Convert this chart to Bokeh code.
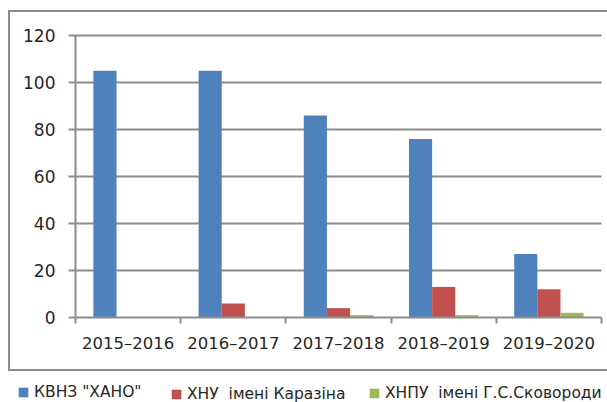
from bokeh.plotting import figure
from bokeh.models import (ColumnDataSource, FixedTicker, Legend, LegendItem, Range1d)
from bokeh.embed import file_html
from bokeh.resources import INLINE

# ---- data ----
years = ["2015–2016", "2016–2017", "2017–2018", "2018–2019", "2019–2020"]
series_names = ["КВНЗ \"ХАНО\"", "ХНУ\u00a0 імені Каразіна", "ХНПУ\u00a0 імені Г.С.Сковороди"]
khano = [105, 105, 86, 76, 27]
karazin = [0, 6, 4, 13, 12]
skovoroda = [0, 0, 1, 1, 2]
y_ticks = [0, 20, 40, 60, 80, 100, 120]

colors = ["#4F81BD", "#C0504D", "#9BBB59"]
offsets = [0.28, 0.50, 0.72]
bar_w = 0.22
FONT = "DejaVu Sans"
TXT = "#262626"
GRAY = "#8c8c8c"

# ---- layout (pixels) ----
W, H = 607, 402
PL, PR, PT, PB = 75, 601, 35, 317          # plot area inside the canvas
n = len(years)
ymax = y_ticks[-1]
kx = (PR - PL) / n
ky = (PB - PT) / ymax
x_range = Range1d(-PL / kx, n + (W - PR) / kx)
y_range = Range1d(-(H - PB) / ky, ymax + PT / ky)

grad = "linear-gradient(%s,%s)" % (GRAY, GRAY)
p = figure(width=W, height=H, output_backend="svg", toolbar_location=None,
           x_range=x_range, y_range=y_range,
           min_border_left=0, min_border_right=0, min_border_top=0,
           min_border_bottom=0)
p.outline_line_color = None
p.background_fill_alpha = 0
p.border_fill_alpha = 0
# outer chart border (top, left, bottom lines) as the page background
p.styles = {
    "background-color": "white",
    "background-image": ", ".join([grad] * 3),
    "background-repeat": "no-repeat",
    "background-position": "8px 10px, 8px 10px, 8px 369px",
    "background-size": "599px 2px, 2px 361px, 599px 2px",
}

renderers = []
for vals, col, off in zip([khano, karazin, skovoroda], colors, offsets):
    src = ColumnDataSource(dict(x=[i + off for i in range(n)], top=vals))
    r = p.vbar(x="x", top="top", bottom=0, width=bar_w, source=src,
               fill_color=col, line_color=None)
    renderers.append(r)

# grid
p.xgrid.visible = False
yg = p.ygrid[0]
yg.ticker = FixedTicker(ticks=y_ticks[1:])
yg.grid_line_color = GRAY
yg.grid_line_width = 2
yg.cross_bounds = (0, n)

# y axis
ya = p.yaxis[0]
ya.fixed_location = 0
ya.bounds = (0, ymax)
ya.ticker = FixedTicker(ticks=y_ticks)
ya.axis_line_color = GRAY
ya.axis_line_width = 2
ya.major_tick_line_color = GRAY
ya.major_tick_line_width = 2
ya.major_tick_out = 7
ya.major_tick_in = 0
ya.minor_tick_line_color = None
ya.major_label_standoff = 13
ya.major_label_text_font = FONT
ya.major_label_text_font_size = "17px"
ya.major_label_text_color = TXT

# x axis: labels at category centers, tick marks at category boundaries
xa = p.xaxis[0]
xa.fixed_location = 0
xa.bounds = (0, n)
centers = [i + 0.5 for i in range(n)]
xa.ticker = FixedTicker(ticks=centers, minor_ticks=list(range(n + 1)))
xa.major_label_overrides = {c: y for c, y in zip(centers, years)}
xa.axis_line_color = GRAY
xa.axis_line_width = 2
xa.major_tick_line_color = None
xa.major_tick_out = 0
xa.major_tick_in = 0
xa.minor_tick_line_color = GRAY
xa.minor_tick_line_width = 2
xa.minor_tick_out = 6
xa.minor_tick_in = 0
xa.major_label_standoff = 10
xa.major_label_text_font = FONT
xa.major_label_text_font_size = "16.5px"
xa.major_label_text_color = TXT

# legend entries below the chart border (slightly staggered as in the original)
leg_pos = [(17, 1), (170, -1), (368, 0)]
for name, r, pos in zip(series_names, renderers, leg_pos):
    lg = Legend(items=[LegendItem(label=name, renderers=[r])], location=pos,
                orientation="horizontal", padding=0, margin=0, spacing=0,
                glyph_width=12, glyph_height=12, label_height=14,
                label_standoff=5, border_line_color=None,
                background_fill_alpha=0, label_text_font=FONT,
                label_text_font_size="15.5px", label_text_color=TXT)
    p.add_layout(lg, "center")

open("out.html", "w").write(file_html(p, INLINE))
